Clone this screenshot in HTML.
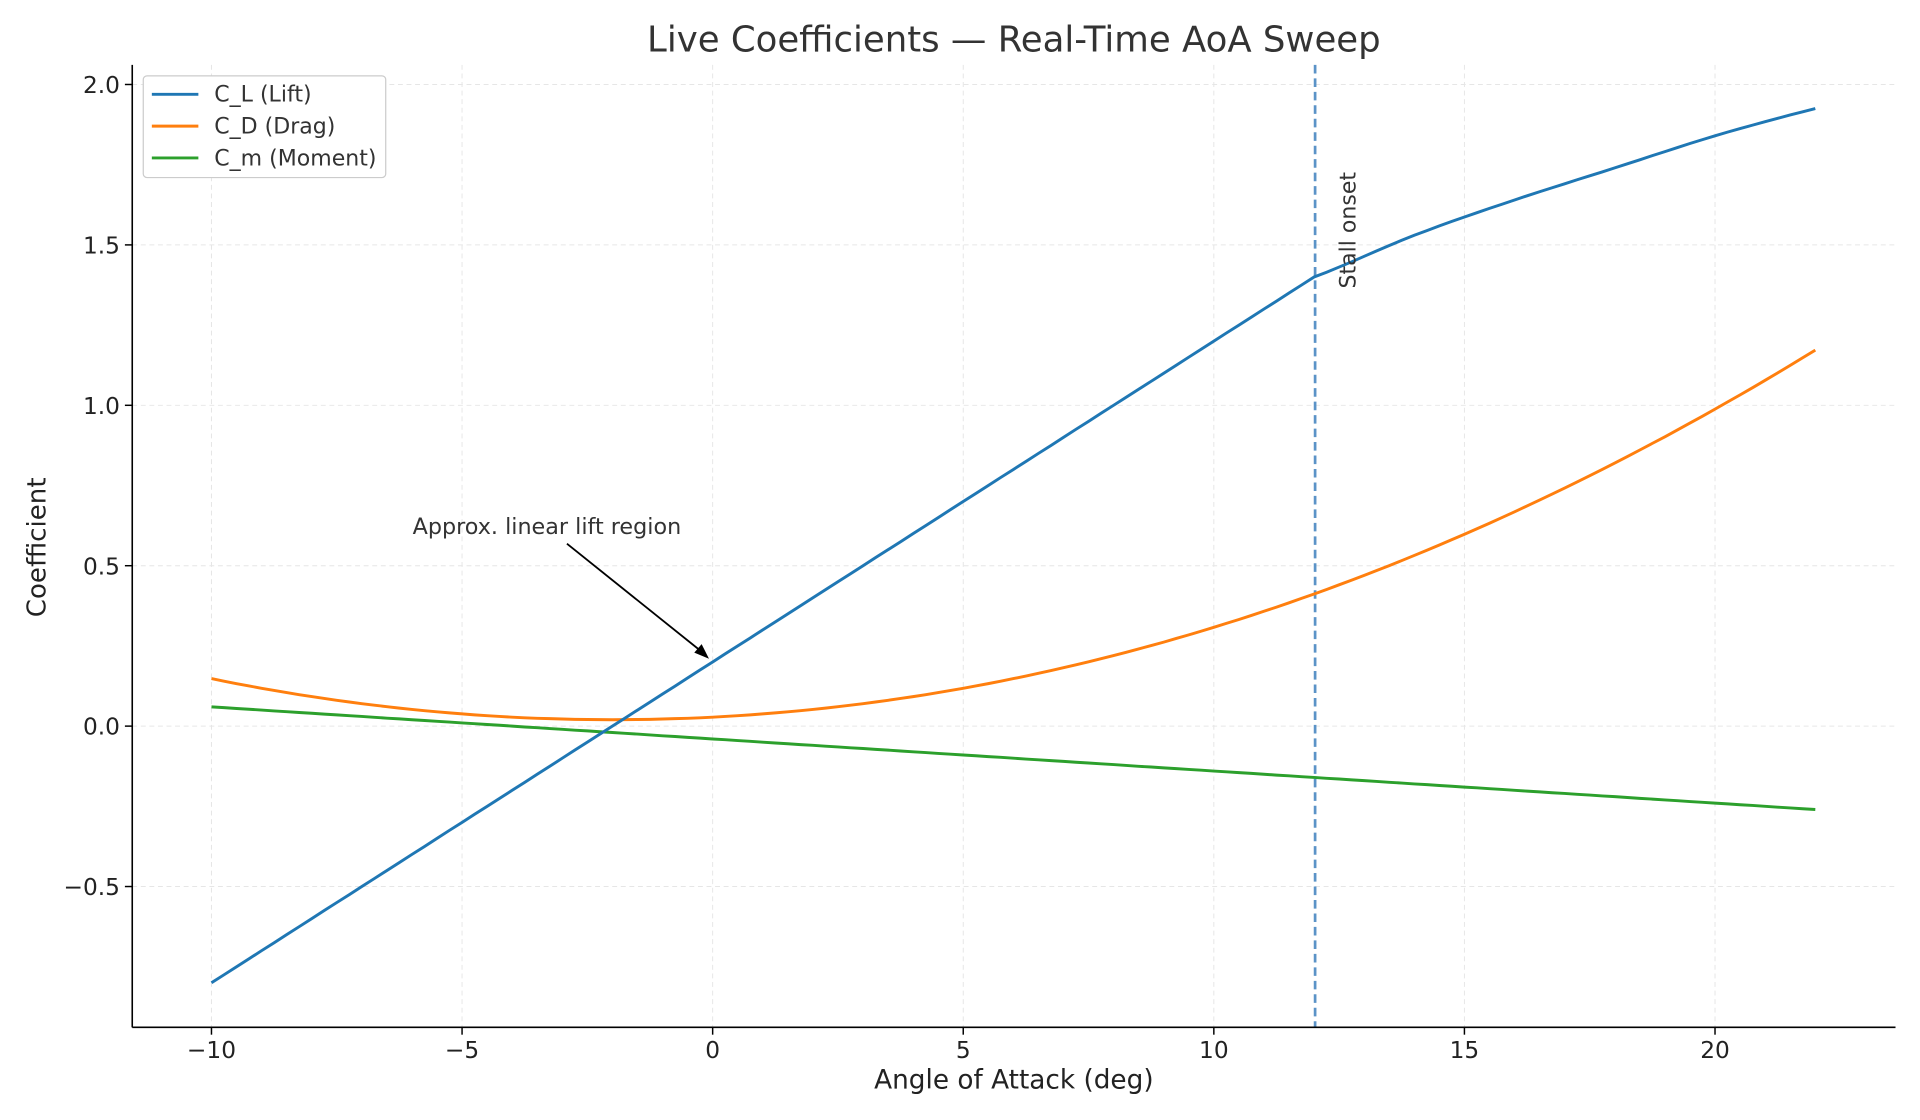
<!DOCTYPE html>
<html><head><meta charset="utf-8"><style>html,body{margin:0;padding:0;background:#fff}svg{display:block}</style></head>
<body>
<svg id="s" width="1920" height="1120" viewBox="0 0 1568 914.67" xmlns="http://www.w3.org/2000/svg" font-family="'DejaVu Sans','Liberation Sans',sans-serif">
<rect width="1568" height="915" fill="#fff"/>
<g id="grid" stroke="#e6e6e6" stroke-width="0.8" stroke-dasharray="4,3"></g>
<line x1="1074" y1="53" x2="1074" y2="839" stroke="#5b93c7" stroke-width="2.2" stroke-dasharray="7,4"/>
<path id="cd" fill="none" stroke="#ff7f0e" stroke-width="2.4"/>
<path id="cm" fill="none" stroke="#2ca02c" stroke-width="2.4"/>
<path id="cl" fill="none" stroke="#1f77b4" stroke-width="2.4"/>
<g stroke="#000" stroke-width="1.3"><line x1="108" y1="53" x2="108" y2="839"/><line x1="108" y1="839" x2="1548" y2="839"/></g>
<g id="ticks" font-size="19" fill="#222"></g>
<text x="828" y="42" text-anchor="middle" font-size="29" fill="#333">Live Coefficients — Real-Time AoA Sweep</text>
<text x="828" y="889" text-anchor="middle" font-size="21.5" fill="#222">Angle of Attack (deg)</text>
<text transform="translate(37,447) rotate(-90)" text-anchor="middle" font-size="21.3" fill="#222">Coefficient</text>
<text transform="translate(1107,188) rotate(-90)" text-anchor="middle" font-size="18" fill="#333">Stall onset</text>
<text x="337" y="436" font-size="18.2" fill="#333">Approx. linear lift region</text>
<line x1="463" y1="444" x2="574" y2="533" stroke="#000" stroke-width="1.5"/>
<path d="M579,538 L567,533 L573,526 Z" fill="#000"/>
<rect x="117" y="62" width="198" height="83" rx="3" fill="#fff" stroke="#ccc"/>
<g font-size="18" fill="#333">
<line x1="124" y1="77" x2="162" y2="77" stroke="#1f77b4" stroke-width="2.4"/><text x="175" y="83">C_L (Lift)</text>
<line x1="124" y1="103" x2="162" y2="103" stroke="#ff7f0e" stroke-width="2.4"/><text x="175" y="109">C_D (Drag)</text>
<line x1="124" y1="129" x2="162" y2="129" stroke="#2ca02c" stroke-width="2.4"/><text x="175" y="135">C_m (Moment)</text>
</g>
</svg>
<script>
const X=a=>582+a*40.93, Y=v=>593-v*262;
const ns="http://www.w3.org/2000/svg";
const g=document.getElementById('grid'), t=document.getElementById('ticks');
function el(p,tag,at,txt){const e=document.createElementNS(ns,tag);for(const k in at)e.setAttribute(k,at[k]);if(txt)e.textContent=txt;p.appendChild(e);}
for(let a=-10;a<=20;a+=5){el(g,'line',{x1:X(a),x2:X(a),y1:53,y2:839});el(t,'line',{x1:X(a),x2:X(a),y1:839,y2:845,stroke:'#000','stroke-width':1.2});el(t,'text',{x:X(a),y:864,'text-anchor':'middle'},(a<0?'\u2212'+(-a):''+a));}
for(let v=-0.5;v<=2.01;v+=0.5){el(g,'line',{x1:108,x2:1548,y1:Y(v),y2:Y(v)});el(t,'line',{x1:102,x2:108,y1:Y(v),y2:Y(v),stroke:'#000','stroke-width':1.2});el(t,'text',{x:98,y:Y(v)+7,'text-anchor':'end'},(v<0?'\u2212':'')+Math.abs(v).toFixed(1));}
const pts=[[11,1.3],[12,1.4],[14,1.53],[16,1.64],[18,1.74],[20,1.84],[22,1.925],[24,2.0]];
function cr(p0,p1,p2,p3,t){return 0.5*((2*p1)+(-p0+p2)*t+(2*p0-5*p1+4*p2-p3)*t*t+(-p0+3*p1-3*p2+p3)*t*t*t);}
function cl(a){if(a<=12)return 0.2+0.1*a;for(let i=1;i<pts.length-2;i++){if(a<=pts[i+1][0]){const t=(a-pts[i][0])/(pts[i+1][0]-pts[i][0]);return cr(pts[i-1][1],pts[i][1],pts[i+1][1],pts[i+2][1],t);}}return 1.925;}
const cd=a=>0.02+0.00200*(a+2)*(a+2), cm=a=>-0.04-0.01*a;
function path(f){let d='';for(let a=-10;a<=22.001;a+=0.25)d+=(d?'L':'M')+X(a).toFixed(1)+','+Y(f(a)).toFixed(1);return d;}
document.getElementById('cl').setAttribute('d',path(cl));
document.getElementById('cd').setAttribute('d',path(cd));
document.getElementById('cm').setAttribute('d',path(cm));
</script>
</body></html>
